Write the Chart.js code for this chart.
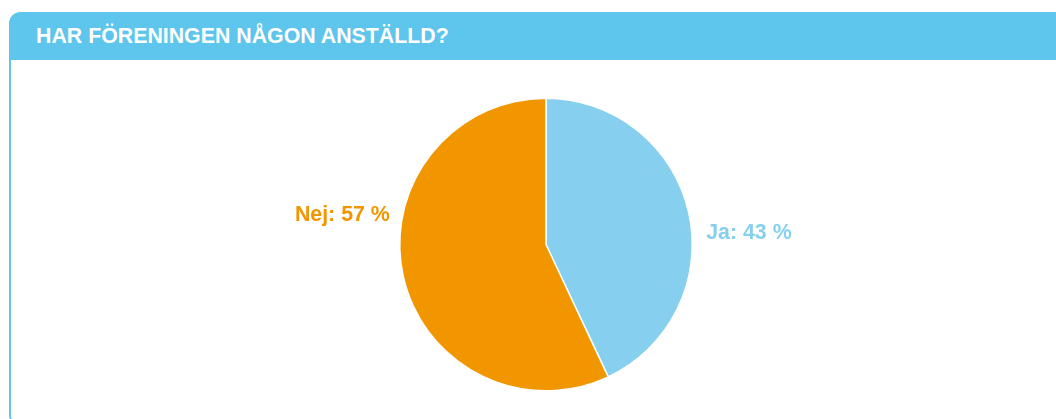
<!DOCTYPE html>
<html>
<head>
<meta charset="utf-8">
<script src="https://cdn.jsdelivr.net/npm/chart.js@4.4.1/dist/chart.umd.min.js"></script>
<style>
  html, body { margin: 0; padding: 0; background: #fff; }
  body { width: 1056px; height: 419px; position: relative; overflow: hidden; font-family: "Liberation Sans", Arial, sans-serif; }
  .panel {
    position: absolute; left: 9px; top: 12px; width: 1100px; height: 410px;
    border: 2px solid #5ec5ec; border-top: none; border-radius: 12px 0 0 6px;
    box-sizing: border-box;
  }
  .panel-head {
    position: absolute; left: 9px; top: 12px; width: 1100px; height: 48px;
    background: #5ec5ec; border-radius: 12px 0 0 0;
    color: #fff; font-weight: bold; font-size: 21.33px; line-height: 48px;
    padding-left: 27px; box-sizing: border-box;
  }
  #wrap { position: absolute; left: 0; top: 0; width: 1056px; height: 419px; }
</style>
</head>
<body>
<div class="panel"></div>
<div class="panel-head">HAR FÖRENINGEN NÅGON ANSTÄLLD?</div>
<div id="wrap"><canvas id="pie"></canvas></div>
<script>
const labels = ['Ja', 'Nej'];
const values = [43, 57];
const colors = ['#87cfef', '#f29600'];

// labels beside the pie, offsets relative to the arc centre
const sideLabels = {
    id: 'sideLabels',
    afterDatasetsDraw(chart) {
        const ctx = chart.ctx;
        const arcs = chart.getDatasetMeta(0).data;
        ctx.save();
        ctx.font = 'bold 21.33px "Liberation Sans", Arial, sans-serif';
        ctx.textBaseline = 'middle';
        arcs.forEach((arc, i) => {
            const text = labels[i] + ': ' + values[i] + ' %';
            ctx.fillStyle = colors[i];
            if (i === 0) {
                ctx.textAlign = 'left';
                ctx.fillText(text, arc.x + arc.outerRadius + 14, arc.y - 11);
            } else {
                ctx.textAlign = 'right';
                ctx.fillText(text, arc.x - arc.outerRadius - 10, arc.y - 29);
            }
        });
        ctx.restore();
    }
};

new Chart(document.getElementById('pie'), {
    type: 'pie',
    data: {
        labels: labels,
        datasets: [{
            data: values,
            backgroundColor: colors,
            borderColor: '#ffffff',
            borderWidth: 1.5
        }]
    },
    options: {
        responsive: true,
        maintainAspectRatio: false,
        animation: false,
        layout: { padding: { left: 399, right: 363, top: 97, bottom: 27 } },
        plugins: {
            legend: { display: false },
            tooltip: { enabled: false }
        }
    },
    plugins: [sideLabels]
});
</script>
</body>
</html>
